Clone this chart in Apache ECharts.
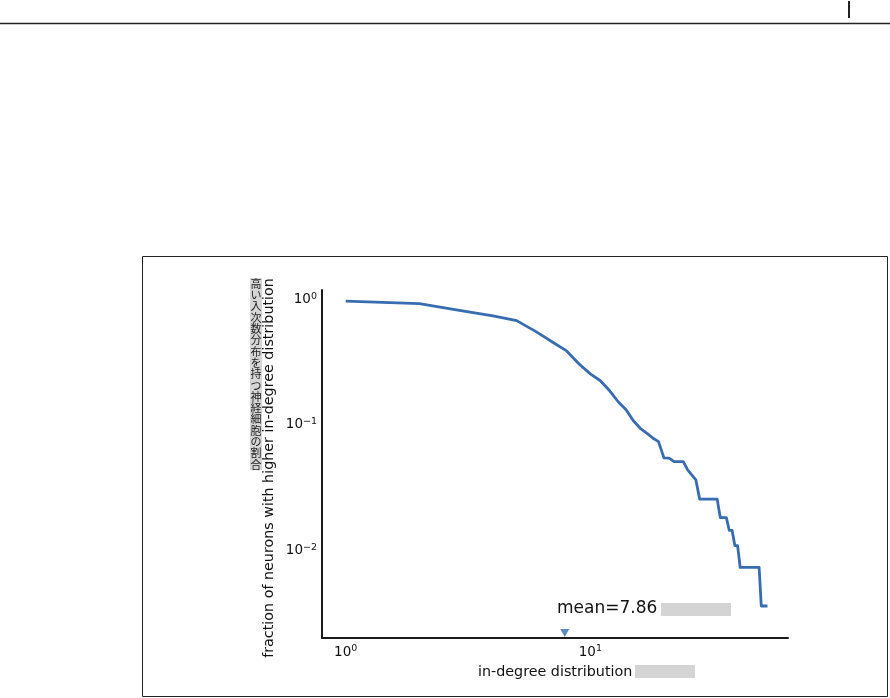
<!DOCTYPE html>
<html>
<head>
<meta charset="utf-8">
<script src="https://cdn.jsdelivr.net/npm/echarts@6/dist/echarts.min.js"></script>
<style>
html,body{margin:0;padding:0;background:#fff;}
#chart{width:890px;height:698px;}
</style>
</head>
<body>
<div id="chart"></div>
<script>
// in-degree values (x) and fraction of neurons with higher in-degree (y)
const degrees = [1, 2, 3, 4, 5, 6, 7, 8, 9, 10, 11, 12, 13, 14, 15, 16, 17, 18, 19, 20, 21, 22, 24, 25, 27, 28, 33, 34, 36, 37, 38, 39, 40, 41, 49, 50, 53];
const fractions = [0.97, 0.926, 0.81, 0.74, 0.678, 0.554, 0.458, 0.389, 0.306, 0.255, 0.225, 0.187, 0.153, 0.132, 0.108, 0.094, 0.086, 0.0787, 0.0736, 0.0546, 0.0543, 0.051, 0.051, 0.0438, 0.0365, 0.0256, 0.0256, 0.0182, 0.0182, 0.0144, 0.0144, 0.0109, 0.0109, 0.0073, 0.0073, 0.0036, 0.0036];
const meanValue = 7.86;
const meanLabel = 'mean=7.86';
const xAxisName = 'in-degree distribution';
const yAxisName = 'fraction of neurons with higher in-degree distribution';
const yAxisNameJa = '高い入次数分布を持つ神経細胞の割合';

const xMin = 0.8, xMax = 64.3;
const yMin = 0.002, yMax = 1.19;

const lineColor = '#376db0';
const FONT = 'DejaVu Sans';

function powLabel(v) {
  const e = Math.log10(v);
  const r = Math.round(e);
  if (Math.abs(e - r) > 1e-6) return '';
  const sup = r < 0 ? '\u2212' + (-r) : String(r);
  return '{b|10}{s|' + sup + '}';
}
const richPow = {
  b: { fontSize: 13.5, lineHeight: 16, fontFamily: FONT, color: '#111' },
  s: { fontSize: 9.5, lineHeight: 9, verticalAlign: 'top', fontFamily: FONT, color: '#111' }
};

const chart = echarts.init(document.getElementById('chart'), null, { renderer: 'canvas' });

const lineData = degrees.map((d, i) => [d, fractions[i]]);

chart.setOption({
  animation: false,
  backgroundColor: '#ffffff',
  grid: { left: 322, top: 290, right: 102, bottom: 60, containLabel: false },
  xAxis: {
    type: 'log', logBase: 10, min: xMin, max: xMax,
    axisLine: { show: true, onZero: false, lineStyle: { color: '#1a1a1a', width: 2 } },
    axisTick: { show: false },
    splitLine: { show: false },
    minorTick: { show: false },
    axisLabel: { margin: 6, formatter: powLabel, rich: richPow, showMinLabel: true, showMaxLabel: true, hideOverlap: false }
  },
  yAxis: {
    type: 'log', logBase: 10, min: yMin, max: yMax,
    axisLine: { show: true, onZero: false, lineStyle: { color: '#1a1a1a', width: 2 } },
    axisTick: { show: false },
    splitLine: { show: false },
    axisLabel: { margin: 5, formatter: powLabel, rich: richPow, hideOverlap: false }
  },
  series: [
    {
      type: 'line',
      data: lineData,
      showSymbol: false,
      symbol: 'none',
      lineStyle: { color: lineColor, width: 2.8, join: 'round' },
      itemStyle: { color: lineColor },
      z: 3
    },
    {
      type: 'scatter',
      data: [[meanValue, yMin]],
      symbol: 'triangle',
      symbolRotate: 180,
      symbolSize: [9, 8],
      symbolOffset: [0, -5],
      itemStyle: { color: lineColor },
      z: 4
    }
  ],
  graphic: [
    { type: 'line', shape: { x1: 0, y1: 23.5, x2: 890, y2: 23.5 }, style: { stroke: '#222', lineWidth: 1.5 } },
    { type: 'line', shape: { x1: 849, y1: 1, x2: 849, y2: 18 }, style: { stroke: '#222', lineWidth: 2 } },
    { type: 'rect', shape: { x: 142.5, y: 256.5, width: 745, height: 440 }, style: { fill: 'none', stroke: '#222', lineWidth: 1 } },
    { type: 'text', x: 557, y: 609, style: { text: meanLabel, font: '17px "DejaVu Sans"', fill: '#111', verticalAlign: 'middle', align: 'left' } },
    { type: 'rect', shape: { x: 661, y: 603, width: 70, height: 13 }, style: { fill: '#d4d4d4' } },
    { type: 'text', x: 478, y: 672, style: { text: xAxisName, font: '14.3px "DejaVu Sans"', fill: '#111', verticalAlign: 'middle', align: 'left' } },
    { type: 'rect', shape: { x: 635, y: 665, width: 60, height: 13 }, style: { fill: '#d4d4d4' } },
    { type: 'text', x: 269, y: 468, rotation: Math.PI / 2, style: { text: yAxisName, font: '14.3px "DejaVu Sans"', fill: '#111', verticalAlign: 'middle', align: 'center' } },
    { type: 'text', x: 250, y: 278, style: { text: yAxisNameJa.split('').join('\n'), font: '11px "Noto Sans CJK JP"', lineHeight: 11.3, fill: '#222', backgroundColor: '#d6d6d6', align: 'left', verticalAlign: 'top', padding: [0, 0.5, 0, 0.5] } }
  ]
});
</script>
</body>
</html>
